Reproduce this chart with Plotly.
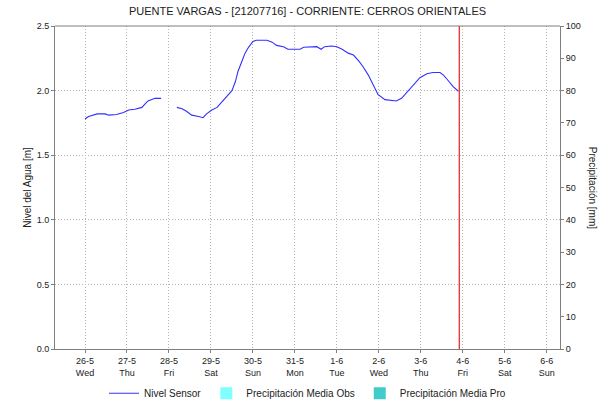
import plotly.graph_objects as go

# Nivel del sensor (m) - dos tramos separados por un vacío de datos
t_seg1 = ["2021-05-26 00:00", "2021-05-26 02:00", "2021-05-26 07:00", "2021-05-26 11:30",
          "2021-05-26 13:30", "2021-05-26 18:00", "2021-05-26 22:00", "2021-05-27 01:00",
          "2021-05-27 04:30", "2021-05-27 08:30", "2021-05-27 10:30", "2021-05-27 12:00",
          "2021-05-27 16:00", "2021-05-27 19:30"]
nivel_seg1 = [1.78, 1.80, 1.82, 1.82, 1.81, 1.815, 1.83, 1.85,
              1.855, 1.87, 1.90, 1.92, 1.94, 1.94]

t_seg2 = ["2021-05-28 04:30", "2021-05-28 07:30", "2021-05-28 10:00", "2021-05-28 13:00",
          "2021-05-28 17:00", "2021-05-28 19:30", "2021-05-28 21:30", "2021-05-29 00:30",
          "2021-05-29 03:30", "2021-05-29 06:00", "2021-05-29 09:00", "2021-05-29 12:00",
          "2021-05-29 14:00", "2021-05-29 15:30", "2021-05-29 17:30", "2021-05-29 19:30",
          "2021-05-29 21:30", "2021-05-30 00:00", "2021-05-30 02:00", "2021-05-30 08:00",
          "2021-05-30 11:00", "2021-05-30 13:30", "2021-05-30 17:30", "2021-05-30 20:00",
          "2021-05-31 03:00", "2021-05-31 05:00", "2021-05-31 12:30", "2021-05-31 15:00",
          "2021-05-31 17:00", "2021-05-31 21:00", "2021-06-01 00:00", "2021-06-01 03:00",
          "2021-06-01 06:30", "2021-06-01 09:30", "2021-06-01 12:30", "2021-06-01 15:00",
          "2021-06-01 18:00", "2021-06-01 21:00", "2021-06-01 23:30", "2021-06-02 03:30",
          "2021-06-02 06:30", "2021-06-02 10:00", "2021-06-02 13:00", "2021-06-02 15:00",
          "2021-06-02 18:00", "2021-06-02 20:30", "2021-06-02 23:30", "2021-06-03 03:30",
          "2021-06-03 07:00", "2021-06-03 11:00", "2021-06-03 13:00", "2021-06-03 15:30",
          "2021-06-03 18:30", "2021-06-03 21:30"]
nivel_seg2 = [1.87, 1.86, 1.84, 1.81, 1.80, 1.79, 1.82, 1.85,
              1.87, 1.91, 1.95, 2.00, 2.07, 2.15, 2.22, 2.29,
              2.335, 2.38, 2.39, 2.39, 2.375, 2.35, 2.34, 2.32,
              2.32, 2.335, 2.34, 2.32, 2.34, 2.345, 2.34, 2.32,
              2.29, 2.275, 2.23, 2.185, 2.12, 2.04, 1.97, 1.93,
              1.925, 1.92, 1.94, 1.97, 2.02, 2.06, 2.10, 2.13,
              2.14, 2.14, 2.12, 2.08, 2.03, 1.995]

# Precipitación diaria (mm): sin lluvia registrada en el periodo
t_precip = ["2021-05-26", "2021-05-27", "2021-05-28", "2021-05-29", "2021-05-30",
            "2021-05-31", "2021-06-01", "2021-06-02", "2021-06-03"]
precip_obs = [0, 0, 0, 0, 0, 0, 0, 0, 0]
precip_pro = [0, 0, 0, 0, 0, 0, 0, 0, 0]

# Ejes
day_ticks = ["2021-05-26", "2021-05-27", "2021-05-28", "2021-05-29", "2021-05-30", "2021-05-31",
             "2021-06-01", "2021-06-02", "2021-06-03", "2021-06-04", "2021-06-05", "2021-06-06"]
day_labels = ["26-5<br>Wed", "27-5<br>Thu", "28-5<br>Fri", "29-5<br>Sat", "30-5<br>Sun", "31-5<br>Mon",
              "1-6<br>Tue", "2-6<br>Wed", "3-6<br>Thu", "4-6<br>Fri", "5-6<br>Sat", "6-6<br>Sun"]
x_range = ["2021-05-25 06:50", "2021-06-06 07:36"]
now_mark = "2021-06-03 22:00"

t_nivel = t_seg1 + [None] + t_seg2
nivel = nivel_seg1 + [None] + nivel_seg2

FONT = "Liberation Sans, Arial, sans-serif"
AXIS = "#7f7f7f"
GRID = "#b4b4b4"
TXT = "#222222"

fig = go.Figure()
fig.add_trace(go.Scatter(x=t_nivel, y=nivel, mode="lines", name="Nivel Sensor",
                         line=dict(color="#3030ff", width=1.1), connectgaps=False))
fig.add_trace(go.Bar(x=t_precip, y=precip_obs, name="Precipitación Media Obs",
                     marker=dict(color="#80ffff", line=dict(width=0)), yaxis="y2"))
fig.add_trace(go.Bar(x=t_precip, y=precip_pro, name="Precipitación Media Pro",
                     marker=dict(color="#40ccc8", line=dict(width=0)), yaxis="y2"))

fig.add_shape(type="line", xref="x", yref="paper", x0=now_mark, x1=now_mark, y0=0, y1=1,
              line=dict(color="#e02020", width=1.2))

fig.update_layout(
    width=612, height=403,
    margin=dict(l=55, r=52, t=26, b=54, autoexpand=False),
    paper_bgcolor="white", plot_bgcolor="white",
    font=dict(family=FONT, size=10, color=TXT),
    title=dict(text="PUENTE VARGAS - [21207716] - CORRIENTE: CERROS ORIENTALES",
               x=0.5, xref="paper", y=0.972, yanchor="middle",
               font=dict(family=FONT, size=11, color=TXT)),
    showlegend=True,
    legend=dict(orientation="h", x=0.5, xanchor="center", y=-0.137, yanchor="middle",
                font=dict(family=FONT, size=10), itemwidth=30, tracegroupgap=0,
                bgcolor="rgba(0,0,0,0)"),
    xaxis=dict(type="date", range=x_range, tickmode="array", tickvals=day_ticks,
               ticktext=day_labels, showgrid=True, gridcolor=GRID, griddash="1px,2px",
               gridwidth=1, showline=True, linecolor=AXIS, linewidth=1, mirror=False,
               ticks="outside", ticklen=3, tickcolor=AXIS, zeroline=False,
               tickfont=dict(family=FONT, size=9, color=TXT)),
    yaxis=dict(range=[0, 2.5], tickmode="linear", tick0=0, dtick=0.5, tickformat=".1f",
               showgrid=True, gridcolor=GRID, griddash="1px,2px", gridwidth=1,
               showline=True, linecolor=AXIS, linewidth=1, ticks="outside", ticklen=3,
               tickcolor=AXIS, zeroline=False, tickfont=dict(family=FONT, size=9, color=TXT)),
    yaxis2=dict(range=[0, 100], tickmode="linear", tick0=0, dtick=10, overlaying="y",
                side="right", showgrid=False, showline=True, linecolor=AXIS, linewidth=1,
                ticks="outside", ticklen=3, tickcolor=AXIS, zeroline=False,
                tickfont=dict(family=FONT, size=9, color=TXT)),
    bargap=0.2,
)

# Línea superior del área de gráfico
fig.add_shape(type="line", xref="paper", yref="paper", x0=0, x1=1, y0=1, y1=1,
              line=dict(color=AXIS, width=1))

fig.add_annotation(text="Nivel del Agua [m]", xref="paper", yref="paper", x=-0.04, y=0.5,
                   xanchor="right", yanchor="middle", textangle=-90, showarrow=False,
                   font=dict(family=FONT, size=10, color=TXT))
fig.add_annotation(text="Precipitación [mm]", xref="paper", yref="paper", x=1.05, y=0.5,
                   xanchor="left", yanchor="middle", textangle=90, showarrow=False,
                   font=dict(family=FONT, size=10, color=TXT))

fig.write_html("out.html")
